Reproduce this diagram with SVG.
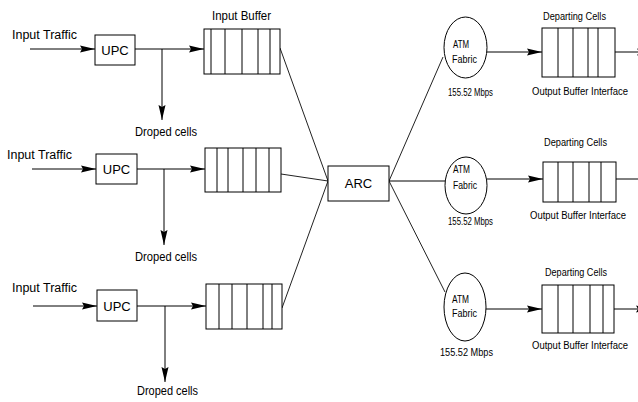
<svg xmlns="http://www.w3.org/2000/svg" width="638" height="402" viewBox="0 0 638 402">
<defs>
<marker id="ah" markerUnits="userSpaceOnUse" markerWidth="16" markerHeight="8" refX="15" refY="4" orient="auto">
<path d="M0,0.5 L15,4 L0,7.5 L2,4 z" fill="#000"/>
</marker>
<style>
.b{fill:#fff;stroke:#000;stroke-width:1}
.l{fill:none;stroke:#000;stroke-width:1}
.d{fill:none;stroke:#222;stroke-width:1}
.a{fill:none;stroke:#000;stroke-width:1;marker-end:url(#ah)}
.t{font-family:"Liberation Sans",Arial,sans-serif;fill:#000}
.m{font-size:12px}
.s{font-size:10px}
.bx{font-size:13px;text-anchor:middle}
</style>
</defs>
<rect width="638" height="402" fill="#fff"/>
<g id="connectors">
<line class="a" x1="30" y1="49" x2="95" y2="49"/>
<line class="a" x1="135" y1="49" x2="204" y2="49"/>
<line class="a" x1="162" y1="49" x2="162" y2="120"/>
<line class="a" x1="32" y1="169" x2="96" y2="169"/>
<line class="a" x1="137" y1="169" x2="205" y2="169"/>
<line class="a" x1="164" y1="169" x2="164" y2="245"/>
<line class="a" x1="33" y1="306" x2="97" y2="306"/>
<line class="a" x1="137" y1="306" x2="206" y2="306"/>
<line class="a" x1="165" y1="306" x2="165" y2="382"/>
<line class="d" x1="280" y1="48" x2="328" y2="181"/>
<line class="d" x1="281" y1="174" x2="328" y2="181"/>
<line class="d" x1="282" y1="308" x2="328" y2="181"/>
<line class="d" x1="389" y1="181" x2="443" y2="57"/>
<line class="l" x1="389" y1="181" x2="445" y2="181"/>
<line class="d" x1="389" y1="181" x2="445" y2="292"/>
<line class="a" x1="487" y1="52" x2="542" y2="52"/>
<line class="a" x1="487" y1="179" x2="543" y2="179"/>
<line class="a" x1="486" y1="309" x2="542" y2="309"/>
<line class="a" x1="615" y1="52" x2="652" y2="52"/>
<line class="a" x1="616" y1="179" x2="653" y2="179"/>
<line class="a" x1="614" y1="309" x2="651" y2="309"/>
</g>
<g id="input1">
<text class="t m" x="12" y="39" textLength="65" lengthAdjust="spacingAndGlyphs">Input Traffic</text>
</g>
<g id="upc1">
<rect class="b" x="95" y="35" width="40" height="30"/>
<text class="t bx" x="115" y="54.5">UPC</text>
</g>
<g id="drop1">
<text class="t m" x="135" y="136" textLength="62" lengthAdjust="spacingAndGlyphs">Droped cells</text>
</g>
<g id="ibuf1">
<text class="t m" x="212" y="20" textLength="59" lengthAdjust="spacingAndGlyphs">Input Buffer</text>
<rect class="b" x="204" y="29" width="76" height="45"/>
<path class="l" d="M211,29V74M225,29V74M242,29V74M258,29V74M270,29V74"/>
</g>
<g id="input2">
<text class="t m" x="7" y="159" textLength="65" lengthAdjust="spacingAndGlyphs">Input Traffic</text>
</g>
<g id="upc2">
<rect class="b" x="96" y="154" width="41" height="30"/>
<text class="t bx" x="116.5" y="174">UPC</text>
</g>
<g id="drop2">
<text class="t m" x="135" y="261" textLength="62" lengthAdjust="spacingAndGlyphs">Droped cells</text>
</g>
<g id="ibuf2">
<rect class="b" x="205" y="148" width="76" height="44"/>
<path class="l" d="M217,148V192M228,148V192M243,148V192M256,148V192M269,148V192"/>
</g>
<g id="input3">
<text class="t m" x="12" y="292" textLength="65" lengthAdjust="spacingAndGlyphs">Input Traffic</text>
</g>
<g id="upc3">
<rect class="b" x="97" y="290" width="40" height="31"/>
<text class="t bx" x="117" y="310.5">UPC</text>
</g>
<g id="drop3">
<text class="t m" x="137" y="395" textLength="61" lengthAdjust="spacingAndGlyphs">Droped cells</text>
</g>
<g id="ibuf3">
<rect class="b" x="206" y="284" width="76" height="45"/>
<path class="l" d="M219,284V329M232,284V329M247,284V329M263,284V329M272,284V329"/>
</g>
<g id="arc">
<rect class="b" x="328" y="166" width="61" height="35"/>
<text class="t bx" x="358.5" y="188">ARC</text>
</g>
<g id="atm1">
<ellipse class="b" cx="465.5" cy="47.5" rx="21.5" ry="30.5"/>
<text class="t s" x="453" y="48" textLength="16" lengthAdjust="spacingAndGlyphs">ATM</text>
<text class="t s" x="452" y="63" textLength="25" lengthAdjust="spacingAndGlyphs">Fabric</text>
<text class="t s" x="448" y="96" textLength="45" lengthAdjust="spacingAndGlyphs">155.52 Mbps</text>
</g>
<g id="atm2">
<ellipse class="b" cx="466" cy="185.5" rx="21" ry="28.5"/>
<text class="t s" x="453" y="173" textLength="17" lengthAdjust="spacingAndGlyphs">ATM</text>
<text class="t s" x="453" y="189" textLength="24" lengthAdjust="spacingAndGlyphs">Fabric</text>
<text class="t s" x="448" y="225" textLength="45" lengthAdjust="spacingAndGlyphs">155.52 Mbps</text>
</g>
<g id="atm3">
<ellipse class="b" cx="465" cy="307" rx="21" ry="34"/>
<text class="t s" x="452" y="303" textLength="17" lengthAdjust="spacingAndGlyphs">ATM</text>
<text class="t s" x="452" y="317" textLength="25" lengthAdjust="spacingAndGlyphs">Fabric</text>
<text class="t s" x="440" y="356" textLength="53" lengthAdjust="spacingAndGlyphs">155.52 Mbps</text>
</g>
<g id="obuf1">
<text class="t s" x="543" y="20" textLength="63" lengthAdjust="spacingAndGlyphs">Departing Cells</text>
<rect class="b" x="542" y="28" width="73" height="49"/>
<path class="l" d="M558,28V77M573,28V77M588,28V77M598,28V77"/>
<text class="t s" x="532" y="95" textLength="96" lengthAdjust="spacingAndGlyphs">Output Buffer Interface</text>
</g>
<g id="obuf2">
<text class="t s" x="544" y="146" textLength="63" lengthAdjust="spacingAndGlyphs">Departing Cells</text>
<rect class="b" x="543" y="162" width="73" height="40"/>
<path class="l" d="M558,162V202M573,162V202M589,162V202M601,162V202"/>
<text class="t s" x="530" y="219" textLength="96" lengthAdjust="spacingAndGlyphs">Output Buffer Interface</text>
</g>
<g id="obuf3">
<text class="t s" x="545" y="276" textLength="62" lengthAdjust="spacingAndGlyphs">Departing Cells</text>
<rect class="b" x="542" y="285" width="72" height="48"/>
<path class="l" d="M558,285V333M573,285V333M590,285V333M603,285V333"/>
<text class="t s" x="532" y="349" textLength="96" lengthAdjust="spacingAndGlyphs">Output Buffer Interface</text>
</g>
</svg>
